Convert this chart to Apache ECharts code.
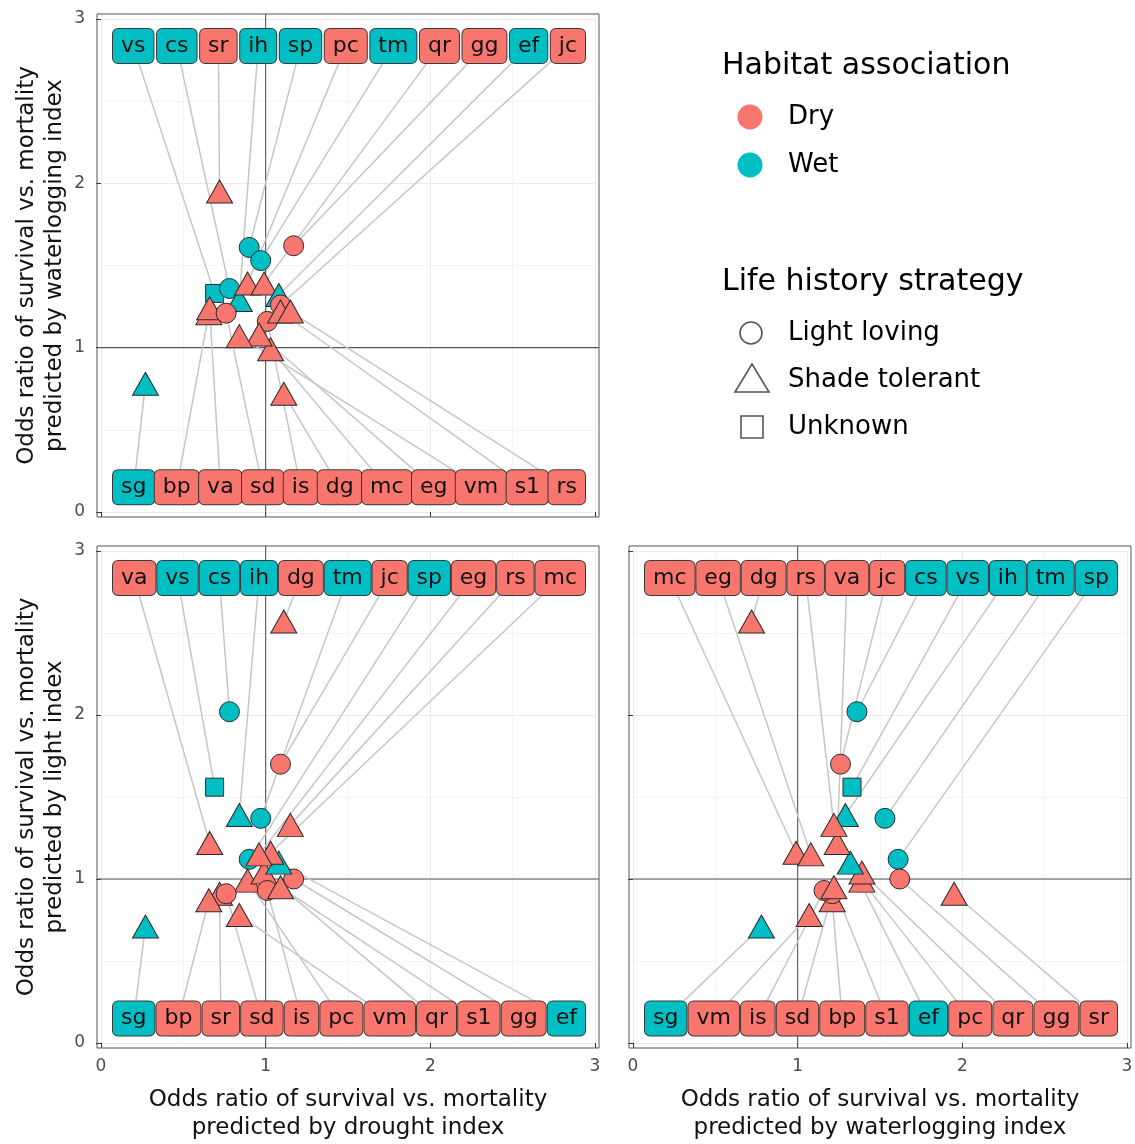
<!DOCTYPE html>
<html>
<head>
<meta charset="utf-8">
<script src="https://cdn.jsdelivr.net/npm/echarts/dist/echarts.min.js"></script>
<style>html,body{margin:0;padding:0;background:#fff}#c{width:1135px;height:1144px}</style>
</head>
<body>
<div id="c"></div>
<script>
// ---------------- data ----------------
const species   = ['vs','cs','sr','ih','sp','pc','tm','qr','gg','ef','jc','sg','bp','va','sd','is','dg','mc','eg','vm','s1','rs'];
const habitat   = ['Wet','Wet','Dry','Wet','Wet','Dry','Wet','Dry','Dry','Wet','Dry','Wet','Dry','Dry','Dry','Dry','Dry','Dry','Dry','Dry','Dry','Dry'];
const strategy  = ['Unknown','Light loving','Shade tolerant','Shade tolerant','Light loving','Shade tolerant','Light loving','Shade tolerant','Light loving','Shade tolerant','Light loving','Shade tolerant','Shade tolerant','Shade tolerant','Light loving','Light loving','Shade tolerant','Shade tolerant','Shade tolerant','Shade tolerant','Shade tolerant','Shade tolerant'];
const drought      = [0.69,0.78,0.72,0.84,0.90,0.89,0.97,0.99,1.17,1.08,1.09,0.27,0.655,0.66,0.76,1.01,1.11,1.03,0.96,0.84,1.09,1.15];
const waterlogging = [1.33,1.36,1.95,1.29,1.61,1.39,1.53,1.39,1.62,1.32,1.26,0.78,1.21,1.24,1.21,1.16,0.72,0.99,1.08,1.07,1.22,1.22];
const light        = [1.56,2.02,0.91,1.39,1.12,0.99,1.37,1.04,1.00,1.10,1.70,0.71,0.87,1.22,0.91,0.93,2.57,1.16,1.15,0.78,0.95,1.33];

// label rows (order of the repelled labels in each panel)
const p1Top    = ['vs','cs','sr','ih','sp','pc','tm','qr','gg','ef','jc'];
const p1Bottom = ['sg','bp','va','sd','is','dg','mc','eg','vm','s1','rs'];
const p2Top    = ['va','vs','cs','ih','dg','tm','jc','sp','eg','rs','mc'];
const p2Bottom = ['sg','bp','sr','sd','is','pc','vm','qr','s1','gg','ef'];
const p3Top    = ['mc','eg','dg','rs','va','jc','cs','vs','ih','tm','sp'];
const p3Bottom = ['sg','vm','is','sd','bp','s1','ef','pc','qr','gg','sr'];

const axisTicks = [0, 1, 2, 3];
const habitatLevels  = ['Dry', 'Wet'];
const strategyLevels = ['Light loving', 'Shade tolerant', 'Unknown'];

const yTitle1 = 'Odds ratio of survival vs. mortality\npredicted by waterlogging index';
const yTitle2 = 'Odds ratio of survival vs. mortality\npredicted by light index';
const xTitle2 = 'Odds ratio of survival vs. mortality\npredicted by drought index';
const xTitle3 = 'Odds ratio of survival vs. mortality\npredicted by waterlogging index';

// ---------------- styles ----------------
const FF = '"DejaVu Sans", "Liberation Sans", sans-serif';
const COLORS = { Dry: '#F8766D', Wet: '#00BFC4' };
const SYMBOLS = { 'Light loving': 'circle', 'Shade tolerant': 'triangle', 'Unknown': 'rect' };
const SIZES = { 'Light loving': 20, 'Shade tolerant': [26, 23], 'Unknown': 18 };
const LABEL_FONT = '22px "DejaVu Sans"';
const PAD = [5, 7];

const mctx = document.createElement('canvas').getContext('2d');
mctx.font = LABEL_FONT;
function boxW(t) { return mctx.measureText(t).width + PAD[1] * 2 + 2; }
function rowCenters(order, x0, x1) {
  const ws = order.map(boxW);
  const total = ws.reduce((a, b) => a + b, 0);
  const gap = (x1 - x0 - total) / (order.length - 1);
  let x = x0;
  return ws.map(w => { const c = x + w / 2; x += w + gap; return c; });
}

const panels = [
  { xv: drought, yv: waterlogging, top: p1Top, bottom: p1Bottom,
    grid: { left: 101, top: 19, width: 494, height: 493 }, xLab: false, yLab: true, xName: '', yName: yTitle1 },
  { xv: drought, yv: light, top: p2Top, bottom: p2Bottom,
    grid: { left: 101, top: 551, width: 494, height: 492 }, xLab: true, yLab: true, xName: xTitle2, yName: yTitle2 },
  { xv: waterlogging, yv: light, top: p3Top, bottom: p3Bottom,
    grid: { left: 633, top: 551, width: 494, height: 492 }, xLab: true, yLab: false, xName: xTitle3, yName: '' }
];

function labelCenter(panel, name, cs, api) {
  let idx = panel.top.indexOf(name), isTop = true;
  if (idx < 0) { idx = panel.bottom.indexOf(name); isTop = false; }
  const order = isTop ? panel.top : panel.bottom;
  const xs = rowCenters(order, cs.x + 12, cs.x + cs.width - 10);
  const y = api.coord([0, isTop ? 2.835 : 0.15])[1];
  return [xs[idx], y];
}

const grids = [], xAxes = [], yAxes = [], series = [];
const nameStyle = { fontFamily: FF, fontSize: 23, lineHeight: 28, color: '#111' };
const tickLabel = { fontFamily: FF, fontSize: 17, color: '#4d4d4d' };

panels.forEach((p, pi) => {
  grids.push(Object.assign({ containLabel: false, outerBoundsMode: 'none', show: false }, p.grid));
  xAxes.push({
    gridIndex: pi, type: 'value', min: axisTicks[0], max: axisTicks[axisTicks.length - 1], interval: 1,
    offset: 5,
    axisLine: { show: false },
    axisTick: { show: true, length: 5, lineStyle: { color: '#333', width: 1 } },
    axisLabel: Object.assign({ show: p.xLab, margin: 10 }, tickLabel),
    splitLine: { show: true, lineStyle: { color: '#ebebeb', width: 1 } },
    minorTick: { show: false, splitNumber: 2 },
    minorSplitLine: { show: true, lineStyle: { color: '#f4f4f4', width: 1 } },
    name: p.xName, nameLocation: 'middle', nameGap: 38, nameTextStyle: nameStyle
  });
  yAxes.push({
    gridIndex: pi, type: 'value', min: axisTicks[0], max: axisTicks[axisTicks.length - 1], interval: 1,
    offset: 4,
    axisLine: { show: false },
    axisTick: { show: true, length: 5, lineStyle: { color: '#333', width: 1 } },
    axisLabel: Object.assign({ show: p.yLab, margin: 12 }, tickLabel),
    splitLine: { show: true, lineStyle: { color: '#ebebeb', width: 1 } },
    minorTick: { show: false, splitNumber: 2 },
    minorSplitLine: { show: true, lineStyle: { color: '#f4f4f4', width: 1 } },
    name: p.yName, nameLocation: 'middle', nameRotate: 90, nameGap: 28, nameTextStyle: nameStyle
  });

  const idxData = species.map((s, i) => [p.xv[i], p.yv[i], i]);

  // panel border + reference lines at 1
  series.push({
    type: 'custom', xAxisIndex: pi, yAxisIndex: pi, z: 1, clip: false, silent: true,
    data: [[1, 1]], encode: { x: 0, y: 1 },
    renderItem: (params, api) => {
      const cs = params.coordSys;
      const c = api.coord([api.value(0), api.value(1)]);
      return { type: 'group', children: [
        { type: 'rect', shape: { x: cs.x - 4, y: cs.y - 5, width: cs.width + 8, height: cs.height + 10 },
          style: { fill: 'none', stroke: '#555', lineWidth: 1 } },
        { type: 'line', shape: { x1: c[0], y1: cs.y - 5, x2: c[0], y2: cs.y + cs.height + 5 },
          style: { stroke: '#555', lineWidth: 1.1 } },
        { type: 'line', shape: { x1: cs.x - 4, y1: c[1], x2: cs.x + cs.width + 4, y2: c[1] },
          style: { stroke: '#555', lineWidth: 1.1 } }
      ] };
    }
  });

  // connectors
  series.push({
    type: 'custom', xAxisIndex: pi, yAxisIndex: pi, z: 2, clip: false, silent: true,
    data: idxData, encode: { x: 0, y: 1 },
    renderItem: (params, api) => {
      const i = api.value(2);
      const pt = api.coord([api.value(0), api.value(1)]);
      const lc = labelCenter(p, species[i], params.coordSys, api);
      return { type: 'line', shape: { x1: pt[0], y1: pt[1], x2: lc[0], y2: lc[1] },
        style: { stroke: '#c6c6c6', lineWidth: 1.5 } };
    }
  });

  // points
  series.push({
    type: 'scatter', xAxisIndex: pi, yAxisIndex: pi, z: 3,
    data: species.map((s, i) => ({
      name: s,
      value: [p.xv[i], p.yv[i]],
      symbol: SYMBOLS[strategy[i]],
      symbolSize: SIZES[strategy[i]],
      itemStyle: { color: COLORS[habitat[i]], borderColor: '#2a2a2a', borderWidth: 1, opacity: 1 }
    })),
    emphasis: { disabled: true }
  });

  // labels
  series.push({
    type: 'custom', xAxisIndex: pi, yAxisIndex: pi, z: 4, clip: false, silent: true,
    data: idxData, encode: { x: 0, y: 1 },
    renderItem: (params, api) => {
      const i = api.value(2);
      const lc = labelCenter(p, species[i], params.coordSys, api);
      return { type: 'text', x: lc[0], y: lc[1], style: {
        text: species[i], font: LABEL_FONT, fill: '#111', align: 'center', verticalAlign: 'middle',
        backgroundColor: COLORS[habitat[i]], borderColor: '#3a3a3a', borderWidth: 1, borderRadius: 5,
        padding: PAD, lineHeight: 24, width: boxW(species[i]) - PAD[1] * 2 } };
    }
  });
});

// ---------------- legend (graphic) ----------------
const legendFontTitle = '30px ' + FF;
const legendFont = '26px ' + FF;
const graphic = [
  { type: 'text', x: 722, y: 66, style: { text: 'Habitat association', font: legendFontTitle, fill: '#000', verticalAlign: 'middle' } },
  { type: 'text', x: 722, y: 282, style: { text: 'Life history strategy', font: legendFontTitle, fill: '#000', verticalAlign: 'middle' } }
];
habitatLevels.forEach((h, k) => {
  const cy = 117 + k * 48;
  graphic.push({ type: 'circle', shape: { cx: 750, cy: cy, r: 12.5 }, style: { fill: COLORS[h] } });
  graphic.push({ type: 'text', x: 788, y: cy, style: { text: h, font: legendFont, fill: '#000', verticalAlign: 'middle' } });
});
strategyLevels.forEach((s, k) => {
  const cy = 333 + k * 47;
  if (SYMBOLS[s] === 'circle') {
    graphic.push({ type: 'circle', shape: { cx: 751, cy: cy, r: 11 }, style: { fill: 'none', stroke: '#555', lineWidth: 1.6 } });
  } else if (SYMBOLS[s] === 'triangle') {
    graphic.push({ type: 'polygon', shape: { points: [[735, cy + 12], [769, cy + 12], [752, cy - 16]] }, style: { fill: 'none', stroke: '#555', lineWidth: 1.6 } });
  } else {
    graphic.push({ type: 'rect', shape: { x: 741, y: cy - 11, width: 22, height: 22 }, style: { fill: 'none', stroke: '#555', lineWidth: 1.6 } });
  }
  graphic.push({ type: 'text', x: 788, y: cy, style: { text: s, font: legendFont, fill: '#000', verticalAlign: 'middle' } });
});

const chart = echarts.init(document.getElementById('c'), null, { renderer: 'canvas' });
chart.setOption({
  animation: false,
  backgroundColor: '#fff',
  grid: grids, xAxis: xAxes, yAxis: yAxes, series: series, graphic: graphic,
  tooltip: { show: false }
});
</script>
</body>
</html>
